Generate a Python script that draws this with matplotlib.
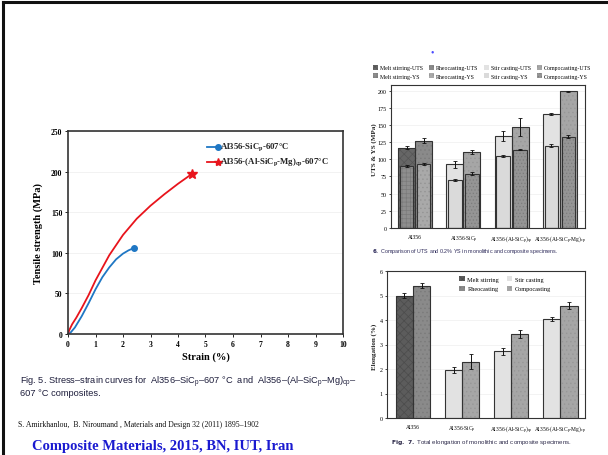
import matplotlib
matplotlib.use("Agg")
import matplotlib.pyplot as plt
import numpy as np
from matplotlib.patches import Patch
from matplotlib.lines import Line2D
from matplotlib.transforms import Bbox

plt.rcParams['font.family'] = ['Liberation Serif', 'DejaVu Serif']
plt.rcParams['mathtext.fontset'] = 'custom'
plt.rcParams['mathtext.rm'] = 'Liberation Serif'
plt.rcParams['hatch.linewidth'] = 0.5

# ---------------- data ----------------
# Fig. 5 stress-strain curves
strain_sic = [0, 0.1, 0.25, 0.5, 0.75, 1.0, 1.25, 1.5, 1.75, 2.0, 2.2, 2.4]
stress_sic = [0, 2, 8, 22, 38, 55, 70, 82, 92, 99, 103, 106]
strain_mg = [0, 0.05, 0.15, 0.3, 0.5, 0.75, 1.0, 1.5, 2.0, 2.5, 3.0, 3.5, 4.0, 4.5]
stress_mg = [0, 5, 12, 20, 32, 48, 66, 97, 122, 142, 158, 172, 185, 197]
curve_labels = ["Al356-SiC$_\\mathregular{p}$-607\u00b0C",
                "Al356-(Al-SiC$_\\mathregular{p}$-Mg)$_\\mathregular{cp}$-607\u00b0C"]

# Fig. 6 / Fig. 7 bar charts
groups = ["Al356", "Al356-SiC$_\\mathregular{p}$",
          "Al356-(Al-SiC$_\\mathregular{p}$)$_\\mathregular{cp}$",
          "Al356-(Al-SiC$_\\mathregular{p}$-Mg)$_\\mathregular{cp}$"]
uts_first = [117, 93, 134, 166]      # melt stirring / stir casting
uts_second = [127, 110, 147, 199]    # rheocasting / compocasting
uts_first_err = [2, 5, 7, 2]
uts_second_err = [4, 3, 13, 1]
ys_first = [90, 70, 105, 120]
ys_second = [93, 79, 114, 133]
ys_first_err = [1, 1, 1, 2]
ys_second_err = [1, 2, 1, 2]
elong_first = [5.0, 1.95, 2.72, 4.05]
elong_second = [5.4, 2.3, 3.42, 4.58]
elong_first_err = [0.1, 0.12, 0.15, 0.08]
elong_second_err = [0.1, 0.3, 0.17, 0.15]

W, H = 608, 456
fig = plt.figure(figsize=(W / 100, H / 100), dpi=100)
fig.patch.set_facecolor('white')


def rect(x0, y0, x1, y1):
    return [x0 / W, 1 - y1 / H, (x1 - x0) / W, (y1 - y0) / H]


def fx(x):
    return x / W


def fy(y):
    return 1 - y / H

# slide border
fig.add_artist(Line2D([fx(3), 1], [fy(3), fy(3)], color='#111111', lw=2.2))
fig.add_artist(Line2D([fx(3), fx(3)], [fy(3), 0], color='#111111', lw=2.2))

# ---------------- Fig. 5 ----------------
ax1 = fig.add_axes(rect(68, 132, 343, 335))
ax1.plot(strain_sic, stress_sic, color='#1f77c4', lw=1.3)
ax1.plot(strain_sic[-1], stress_sic[-1], 'o', color='#1f77c4', ms=4)
ax1.plot(strain_mg, stress_mg, color='#e8141c', lw=1.3)
ax1.plot(strain_mg[-1], stress_mg[-1], '*', color='#e8141c', ms=7)
ax1.set_xlim(0, 10)
ax1.set_ylim(0, 250)
ax1.set_xticks(range(0, 11))
ax1.set_yticks(range(0, 251, 50))
ax1.yaxis.grid(True, color='#f0f0f0', lw=0.6)
ax1.set_axisbelow(True)
for s in ax1.spines.values():
    s.set_color('#333333')
    s.set_linewidth(1.2)
ax1.tick_params(labelsize=5.5, length=2, width=0.6, pad=2)
for lab in ax1.get_xticklabels() + ax1.get_yticklabels():
    lab.set_fontweight('bold')
ax1.set_xlabel("Strain (%)", fontsize=7.5, fontweight='bold', labelpad=3)
ax1.set_ylabel("Tensile strength (MPa)", fontsize=7.5, fontweight='bold', labelpad=6)
# legend
leg_cols = ['#1f77c4', '#e8141c']
leg_mk = ['o', '*']
for i, (lab, c, m) in enumerate(zip(curve_labels, leg_cols, leg_mk)):
    yy = 0.921 - i * 0.074
    ax1.plot([0.505, 0.545], [yy, yy], color=c, lw=1.3, transform=ax1.transAxes)
    ax1.plot([0.545], [yy], m, color=c, ms=4 if m == 'o' else 6, transform=ax1.transAxes)
    ax1.text(0.552, yy, lab, transform=ax1.transAxes, fontsize=6.3, va='center',
             fontweight='bold', color='#222222')

fig.text(fx(20), fy(382), "Fig. 5. Stress\u2013strain curves for  Al356\u2013SiC$_\\mathregular{p}$\u2013607 \u00b0C  and  Al356\u2013(Al\u2013SiC$_\\mathregular{p}$\u2013Mg)$_\\mathregular{cp}$\u2013",
         fontsize=6.7, family='Liberation Sans', color='#1e1e3c', va='center')
fig.text(fx(20), fy(394), "607 \u00b0C composites.", fontsize=6.7, family='Liberation Sans',
         color='#1e1e3c', va='center')
fig.text(fx(18), fy(425), "S. Amirkhanlou,  B. Niroumand , Materials and Design 32 (2011) 1895\u20131902",
         fontsize=5.6, color='#111111', va='center')
fig.text(fx(32), fy(447), "Composite Materials, 2015, BN, IUT, Iran", fontsize=10.5,
         fontweight='bold', color='#1a1ad0', va='center')

# ---------------- bar styles ----------------
x = np.arange(len(groups))
bw = 0.35
ysw = 0.28
uts_styles_first = [('#666666', 'xxxx', '#555555')] + [('#e2e2e2', None, '#e2e2e2')] * 3
uts_styles_second = [('#8a8a8a', '....', '#7a7a7a')] + [('#a6a6a6', '....', '#979797')] * 3
ys_styles_first = [('#8e8e8e', '++++', '#7a7a7a')] + [('#dadada', None, '#dadada')] * 3
ys_styles_second = [('#a9a9a9', '....', '#949494')] + [('#959595', '.....', '#7d7d7d')] * 3


def draw_bars(ax, xs, vals, errs, width, styles):
    for xi, v, e, (fc, h, hc) in zip(xs, vals, errs, styles):
        ax.bar(xi, v, width, color=fc, edgecolor=hc, hatch=h, linewidth=0, zorder=2)
        ax.bar(xi, v, width, fill=False, edgecolor='#333333', linewidth=0.8, zorder=3)
    ax.errorbar(xs, vals, yerr=errs, fmt='none', ecolor='#111111', elinewidth=0.7,
                capsize=1.5, capthick=0.6, zorder=4)


def style_bar_axes(ax):
    for s in ax.spines.values():
        s.set_color('#333333')
        s.set_linewidth(0.8)
    ax.tick_params(labelsize=4.3, length=1.5, width=0.5, pad=1.5)
    ax.tick_params(axis='x', length=0, pad=4, labelsize=4.0)
    ax.yaxis.grid(True, color='#eeeeee', lw=0.5)
    ax.set_axisbelow(True)

# ---------------- Fig. 6 ----------------
ax2 = fig.add_axes(rect(391, 86, 585, 229))
draw_bars(ax2, x - bw / 2, uts_first, uts_first_err, bw, uts_styles_first)
draw_bars(ax2, x + bw / 2, uts_second, uts_second_err, bw, uts_styles_second)
draw_bars(ax2, x - bw / 2, ys_first, ys_first_err, ysw, ys_styles_first)
draw_bars(ax2, x + bw / 2, ys_second, ys_second_err, ysw, ys_styles_second)
ax2.set_xlim(-0.5, 3.52)
ax2.set_ylim(0, 208)
ax2.set_yticks(range(0, 201, 25))
ax2.set_xticks(x)
ax2.set_xticklabels(groups)
style_bar_axes(ax2)

leg6_labels = ["Melt stirring-UTS", "Melt stirring-YS", "Rheocasting-UTS", "Rheocasting-YS",
               "Stir casting-UTS", "Stir casting-YS", "Compocasting-UTS", "Compocasting-YS"]
leg6_styles = [uts_styles_first[0], ys_styles_first[0], uts_styles_second[0], ys_styles_second[0],
               uts_styles_first[1], ys_styles_first[1], uts_styles_second[1], ys_styles_second[1]]
h6 = [Patch(facecolor=fc, edgecolor=hc, hatch=h, linewidth=0) for fc, h, hc in leg6_styles]
ax2.legend(h6, leg6_labels, ncol=4, loc='lower center', bbox_to_anchor=(0.47, 1.02),
           frameon=False, fontsize=4.2, handlelength=0.9, handleheight=0.9,
           handletextpad=0.3, columnspacing=1.0, labelspacing=0.5, borderpad=0.1)

t6 = fig.text(fx(374), fy(150), "UTS & YS (MPa)", rotation=90, fontsize=5,
              fontweight='bold', va='center', ha='center', color='#222222')
t6.set_clip_box(Bbox.from_extents(371, 0, W, H))
t6.set_clip_on(True)
fig.text(fx(432), fy(53), "\u2022", color='#4a4aff', fontsize=7, ha='center', va='center')
fig.text(fx(372), fy(252), "$\\mathbf{6.}$ Comparison of UTS and 0.2% YS in monolithic and composite specimens.",
         fontsize=3.9, family='Liberation Sans', color='#2d2a5a', va='center')

# ---------------- Fig. 7 ----------------
ax3 = fig.add_axes(rect(387, 272, 585, 419))
el_first_styles = [('#5c5c5c', 'xxxx', '#4c4c4c')] + [('#e2e2e2', None, '#e2e2e2')] * 3
el_second_styles = [('#8a8a8a', '....', '#7a7a7a')] + [('#a6a6a6', '....', '#979797')] * 3
draw_bars(ax3, x - bw / 2, elong_first, elong_first_err, bw, el_first_styles)
draw_bars(ax3, x + bw / 2, elong_second, elong_second_err, bw, el_second_styles)
ax3.set_xlim(-0.53, 3.5)
ax3.set_ylim(0, 6)
ax3.set_yticks(range(0, 7))
ax3.set_xticks(x)
ax3.set_xticklabels(groups)
style_bar_axes(ax3)
leg7_labels = ["Melt stirring", "Rheocasting", "Stir casting", "Compocasting"]
leg7_styles = [el_first_styles[0], el_second_styles[0], el_first_styles[1], el_second_styles[1]]
h7 = [Patch(facecolor=fc, edgecolor=hc, hatch=h, linewidth=0) for fc, h, hc in leg7_styles]
ax3.legend(h7, leg7_labels, ncol=2, loc='upper left', bbox_to_anchor=(0.34, 1.0),
           frameon=False, fontsize=4.5, handlelength=0.9, handleheight=0.9,
           handletextpad=0.4, columnspacing=1.2, labelspacing=0.6, borderpad=0.3)
fig.text(fx(374), fy(347), "Elongation (%)", rotation=90, fontsize=5,
         fontweight='bold', va='center', ha='center', color='#222222')
fig.text(fx(391), fy(443), "$\\mathbf{Fig.\\ 7.}$ Total elongation of monolithic and composite specimens.",
         fontsize=4.45, family='Liberation Sans', color='#2d2a4a', va='center')

fig.savefig("out.png", dpi=100, facecolor='white')
